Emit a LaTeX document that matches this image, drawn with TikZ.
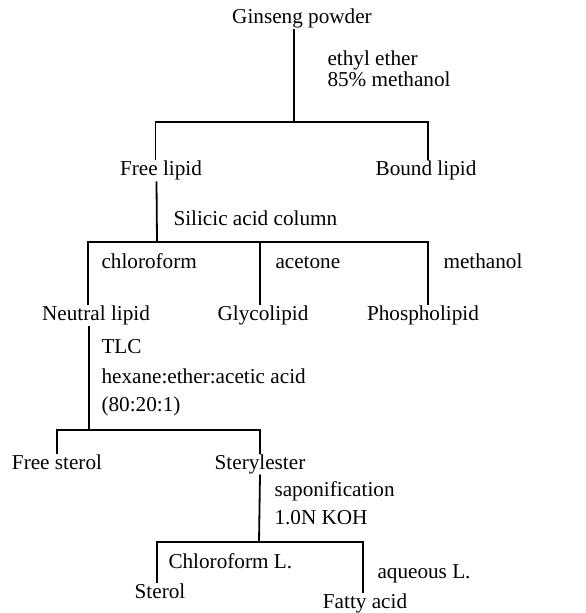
\documentclass[tikz,border=0pt]{standalone}
\usepackage{fontspec}
\setmainfont{Liberation Serif}
\begin{document}
\begin{tikzpicture}[x=0.5pt, y=-0.5pt, line width=0.9pt,
  every node/.style={font=\fontsize{10.6}{12}\selectfont, inner sep=0.3pt, text height=0.7em, text depth=0.2em},
  cond/.style={anchor=west}]

\useasboundingbox (0,0) rectangle (585,613);

% Fractions
\node (ginseng) at (302,19) {Ginseng powder};
\node (freelipid) at (161,171) {Free lipid};
\node (boundlipid) at (426,171) {Bound lipid};
\node (neutral) at (96,316) {Neutral lipid};
\node (glyco) at (263,316) {Glycolipid};
\node (phospho) at (423,316) {Phospholipid};
\node (freesterol) at (57,464) {Free sterol};
\node (steryl) at (260,464) {Sterylester};
\node (sterol) at (160,593) {Sterol};
\node (fatty) at (365,603) {Fatty acid};

% Conditions
\node[cond] (ether) at (326,61) {ethyl ether};
\node[cond] (meoh) at (326,82) {85\% methanol};
\node[cond] (silicic) at (172,221) {Silicic acid column};
\node[cond] (chcl) at (100,264) {chloroform};
\node[cond] (acetone) at (274,264) {acetone};
\node[cond] (methanol) at (442,264) {methanol};
\node[cond] (tlc) at (100,348) {TLC};
\node[cond] (solvent) at (100,378) {hexane:ether:acetic acid};
\node[cond] (ratio) at (100,406) {(80:20:1)};
\node[cond] (sapon) at (273,491) {saponification};
\node[cond] (koh) at (273,519) {1.0N KOH};
\node[cond] (chlL) at (167,563) {Chloroform L.};
\node[cond] (aqL) at (376,573) {aqueous L.};

% Junctions
\coordinate (j1) at (294,122);
\coordinate (j2) at (157,242);
\coordinate (j3) at (89,430);
\coordinate (j4) at (259,542);

% Ginseng powder -> Free / Bound lipid
\draw ([xshift=-4pt]ginseng.south) -- (j1);
\draw ([xshift=-2.75pt]freelipid.north) |- (j1) -| ([xshift=1pt]boundlipid.north);

% Free lipid -> three fractions
\draw ([xshift=-2.25pt]freelipid.south) -- (j2);
\draw ([xshift=-4pt]neutral.north) |- (j2) -| ([xshift=2.5pt]phospho.north);
\draw ([xshift=-1.5pt]glyco.north) -- ([xshift=-1.5pt]glyco.north |- j2);

% Neutral lipid -> Free sterol / Sterylester
\draw ([xshift=-3.5pt]neutral.south) -- (j3);
\draw (freesterol.north) |- (j3) -| (steryl.north);

% Sterylester -> Sterol / Fatty acid
\draw (steryl.south) -- (j4);
\draw ([xshift=-1.5pt]sterol.north) |- (j4) -| ([xshift=-1pt]fatty.north);

\end{tikzpicture}
\end{document}
